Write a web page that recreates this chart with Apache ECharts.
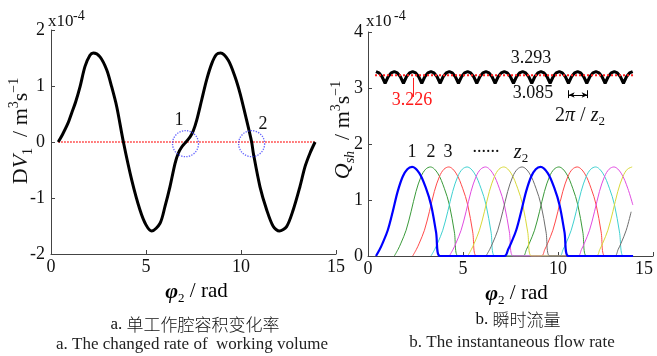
<!DOCTYPE html>
<html><head><meta charset="utf-8">
<script src="https://cdn.jsdelivr.net/npm/echarts@6/dist/echarts.min.js"></script>
<style>html,body{margin:0;padding:0;background:#fff}#c{width:657px;height:356px}</style>
</head><body><div id="c"></div>
<script>
// ---------- data ----------
// left panel: change rate of one working chamber, DV1 (x1e-4 m^3/s) vs phi2 (rad)
const dvX = [0.38,0.6,0.9,1.09,1.3,1.53,1.79,2.05,2.23,2.58,2.93,3.19,3.46,3.81,4.25,4.68,5.0,5.3,5.74,6.0,6.26,6.53,6.7,6.88,7.05,7.32,7.49,7.67,7.93,8.19,8.46,8.7,8.93,9.33,9.68,9.95,10.21,10.56,10.65,11.0,11.35,11.7,12.02,12.4,12.75,13.1,13.37,13.63,13.9];
const dvY = [0,0.13,0.34,0.52,0.72,0.99,1.35,1.55,1.59,1.52,1.29,0.99,0.63,0,-0.68,-1.21,-1.48,-1.59,-1.45,-1.15,-0.80,-0.38,-0.2,-0.09,-0.02,0.09,0.2,0.39,0.75,1.11,1.40,1.56,1.59,1.46,1.17,0.87,0.51,0,-0.2,-0.8,-1.21,-1.51,-1.59,-1.51,-1.21,-0.8,-0.44,-0.2,0];
const zeroLineX = [0.38, 13.9];
const circleX = [7.08, 10.56];
const circleY = [-0.03, -0.03];

// right panel: one delivery lobe (offset from its start, value) and the start of each lobe per chamber
const lobeT = [0,0.2,0.35,0.62,0.88,1.14,1.41,1.65,1.9,2.28,2.63,2.9,3.16,3.37];
const lobeQ = [0,0.12,0.23,0.46,0.79,1.15,1.42,1.55,1.59,1.48,1.21,0.91,0.43,0];
const chamberStarts = [
  [1.385, 8.145],
  [2.35, 9.11],
  [3.315, 10.075],
  [4.28, 11.04],
  [5.245, 12.005],
  [6.21, 12.97],
  [0.42, 7.18]
];
const chamberColors = ['#3a9a3a','#ff4a4a','#3fd0d0','#e04ce0','#d8d83a','#6e6e6e','#0000ff'];
const rightEnd = 13.95;

// total instantaneous flow: ripple shape (offset from a crest, value) and crest positions
const rippleT = [0,0.16,0.32,0.48,0.64,0.80];
const rippleQ = [3.293,3.270,3.201,3.085,3.201,3.270];
const rippleCrest = [0.42,1.385,2.35,3.315,4.28,5.245,6.21,7.175,8.14,9.105,10.07,11.035,12.0,12.965,13.93];
const meanQ = 3.226;
const meanLineX = [0.37, 13.95];

// ---------- build ----------
const SERIF = 'Liberation Serif';
const CJK = 'Noto Sans CJK SC';
const dvData = dvX.map((x,i)=>[x, dvY[i]]);

const lobeSeries = chamberStarts.map((starts, k) => {
  const pts = [];
  starts.forEach(s => {
    lobeT.forEach((t,i) => { const x = s + t; if (x <= rightEnd + 1e-9) pts.push([x, lobeQ[i]]); });
  });
  const last = pts[pts.length-1];
  if (last[1] === 0 && last[0] < rightEnd) pts.push([rightEnd, 0]);
  const isBlue = k === chamberStarts.length - 1;
  return {
    type:'line', xAxisIndex:1, yAxisIndex:1, data:pts, showSymbol:false, smooth:0.35,
    lineStyle:{color:chamberColors[k], width: isBlue ? 2.2 : 1}, z: isBlue ? 5 : 3, silent:true, animation:false
  };
});

const rippleData = [];
rippleCrest.forEach(m => rippleT.forEach((t,i) => { const x = m + t; if (x <= rightEnd + 1e-9) rippleData.push([x, rippleQ[i]]); }));

const axisLineStyle = {show:true, onZero:false, lineStyle:{color:'#444', width:1}};
const tickStyle = {show:true, inside:true, length:4, lineStyle:{color:'#444'}};
const lbl = (m, extra) => Object.assign({fontFamily:SERIF, fontSize:18, color:'#111', margin:m, showMinLabel:true, showMaxLabel:true, hideOverlap:false}, extra||{});

const xName = {
  p:{fontFamily:SERIF, fontSize:22, fontStyle:'italic', fontWeight:'bold', color:'#000', lineHeight:26},
  s:{fontFamily:SERIF, fontSize:13, color:'#000', verticalAlign:'bottom', lineHeight:14},
  n:{fontFamily:SERIF, fontSize:21, color:'#000', lineHeight:26}
};

const option = {
  animation:false,
  backgroundColor:'#fff',
  grid:[
    {left:51, top:30, width:285, height:224, containLabel:false, outerBoundsMode:'none'},
    {left:368, top:32, width:285, height:224, containLabel:false, outerBoundsMode:'none'}
  ],
  xAxis:[
    {type:'value', gridIndex:0, min:0, max:15, interval:5, axisLine:axisLineStyle, axisTick:tickStyle, splitLine:{show:false}, axisLabel:lbl(4),
     name:'{p|φ}{s|2}{n| / rad}', nameLocation:'middle', nameGap:24, nameTextStyle:{rich:xName, padding:[0,0,0,6]}},
    {type:'value', gridIndex:1, min:0, max:15, interval:5, axisLine:axisLineStyle, axisTick:tickStyle, splitLine:{show:false}, axisLabel:lbl(4, {alignMaxLabel:'right'}),
     name:'{p|φ}{s|2}{n| / rad}', nameLocation:'middle', nameGap:20, nameTextStyle:{rich:xName, padding:[0,0,0,12]}}
  ],
  yAxis:[
    {type:'value', gridIndex:0, min:-2, max:2, interval:1, axisLine:axisLineStyle, axisTick:tickStyle, splitLine:{show:false}, axisLabel:lbl(6)},
    {type:'value', gridIndex:1, min:0, max:4, interval:1, axisLine:axisLineStyle, axisTick:tickStyle, splitLine:{show:false}, axisLabel:lbl(5)}
  ],
  series:[
    {type:'line', xAxisIndex:0, yAxisIndex:0, data:zeroLineX.map(x=>[x,0]), showSymbol:false, silent:true,
     lineStyle:{color:'#ff2020', width:1.5, type:'dotted'}, z:2},
    {type:'line', xAxisIndex:0, yAxisIndex:0, data:dvData, showSymbol:false, smooth:0.3, silent:true,
     lineStyle:{color:'#000', width:3}, z:3},
    {type:'scatter', xAxisIndex:0, yAxisIndex:0, data:circleX.map((x,i)=>[x,circleY[i]]), symbolSize:26, silent:true,
     itemStyle:{color:'rgba(0,0,0,0)', borderColor:'#3a3aff', borderWidth:1.3, borderType:'dotted'}, z:4},
    ...lobeSeries,
    {type:'line', xAxisIndex:1, yAxisIndex:1, data:rippleData, showSymbol:false, silent:true,
     lineStyle:{color:'#000', width:3}, z:3},
    {type:'line', xAxisIndex:1, yAxisIndex:1, data:meanLineX.map(x=>[x,meanQ]), showSymbol:false, silent:true,
     lineStyle:{color:'#ff2020', width:2, type:'dotted'}, z:4,
     markLine:{silent:true, symbol:'none', animation:false, label:{show:false},
       data:[
         [{coord:[2.37,3.18], lineStyle:{color:'#ff2020', type:'solid', width:1}}, {coord:[2.37,2.84]}],
         [{coord:[10.56,2.96], lineStyle:{color:'#000', type:'solid', width:1}}, {coord:[10.56,2.82]}],
         [{coord:[11.56,2.96], lineStyle:{color:'#000', type:'solid', width:1}}, {coord:[11.56,2.82]}],
         [{coord:[10.56,2.875], symbol:'arrow', symbolSize:[4,6], lineStyle:{color:'#000', type:'solid', width:1}}, {coord:[11.56,2.875], symbol:'arrow', symbolSize:[4,6]}]
       ]}}
  ],
  graphic:[]
};

function t(x, y, text, extra) {
  return Object.assign({type:'text', x:x, y:y, silent:true, z:10,
    style:Object.assign({text:text, fontFamily:SERIF, fontSize:18, fill:'#111', align:'center', verticalAlign:'middle'}, extra||{})});
}
const yNameRich = {
  n:{fontFamily:SERIF, fontSize:22, color:'#000', lineHeight:28},
  i:{fontFamily:SERIF, fontSize:22, fontStyle:'italic', color:'#000', lineHeight:28},
  s:{fontFamily:SERIF, fontSize:14, color:'#000', verticalAlign:'bottom', lineHeight:15},
  si:{fontFamily:SERIF, fontSize:14, fontStyle:'italic', color:'#000', verticalAlign:'bottom', lineHeight:15},
  p:{fontFamily:SERIF, fontSize:14, color:'#000', verticalAlign:'top', lineHeight:15}
};
const capRich = {
  a:{fontFamily:SERIF, fontSize:17, color:'#222'},
  c:{fontFamily:CJK, fontSize:17, fontWeight:300, color:'#333'}
};
const g = option.graphic;
// exponent markers
g.push(t(48, 22, 'x10', {align:'left', fontSize:17}));
g.push(t(73, 16, '-4', {align:'left', fontSize:14}));
g.push(t(366, 22, 'x10', {align:'left', fontSize:17}));
g.push(t(394, 16, '-4', {align:'left', fontSize:14}));
// y axis names (rotated)
g.push(Object.assign(t(21, 131, '{n|D}{i|V}{s|1}{n|  / m}{p|3}{n|s}{p|−1}', {rich:yNameRich}), {rotation:Math.PI/2}));
g.push(Object.assign(t(343, 130, '{i|Q}{si|sh}{n|  / m}{p|3}{n|s}{p|−1}', {rich:yNameRich}), {rotation:Math.PI/2}));
// left annotations
g.push(t(179, 120, '1'));
g.push(t(263, 124, '2'));
// right annotations
g.push(t(531, 58, '3.293'));
g.push(t(412, 100, '3.226', {fill:'#ff1a1a'}));
g.push(t(533, 93, '3.085'));
g.push(t(580, 116, '{n|2}{i|π}{n| / }{i|z}{s|2}', {rich:{
  n:{fontFamily:SERIF, fontSize:20, color:'#000', lineHeight:24},
  i:{fontFamily:SERIF, fontSize:20, fontStyle:'italic', color:'#000', lineHeight:24},
  s:{fontFamily:SERIF, fontSize:13, color:'#000', verticalAlign:'bottom', lineHeight:14}}}));
g.push(t(412, 152, '1'));
g.push(t(431, 152, '2'));
g.push(t(448, 152, '3'));
g.push(t(486, 147, '......', {fontSize:18}));
g.push(t(521, 153, '{i|z}{s|2}', {rich:{
  i:{fontFamily:SERIF, fontSize:20, fontStyle:'italic', color:'#000', lineHeight:24},
  s:{fontFamily:SERIF, fontSize:13, color:'#000', verticalAlign:'bottom', lineHeight:14}}}));
// captions
g.push(t(195, 325, '{a|a. }{c|单工作腔容积变化率}', {rich:capRich}));
g.push(t(192, 345, 'a. The changed rate of  working volume', {fontSize:17, fill:'#222'}));
g.push(t(518, 320, '{a|b. }{c|瞬时流量}', {rich:capRich}));
g.push(t(512, 343, 'b. The instantaneous flow rate', {fontSize:17, fill:'#222'}));

const chart = echarts.init(document.getElementById('c'), null, {renderer:'canvas'});
chart.setOption(option);
</script>
</body></html>
